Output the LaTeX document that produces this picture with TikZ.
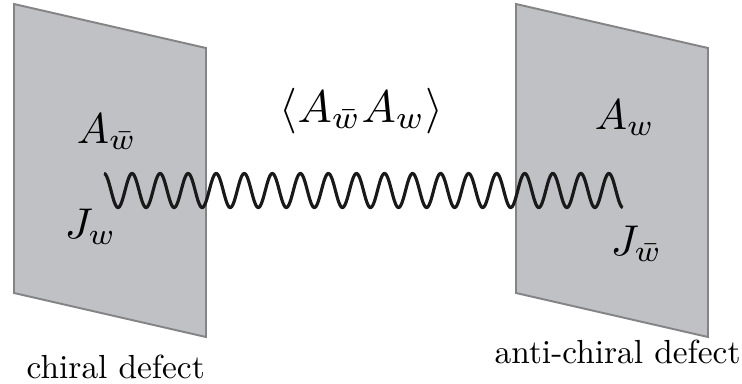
\documentclass[tikz,border=0pt]{standalone}
\usepackage{amsmath}
\usepackage{xcolor}
\usepackage{tikz}

\definecolor{planefill}{RGB}{192,193,196}
\definecolor{planeedge}{RGB}{132,132,134}

\begin{document}
\begin{tikzpicture}[
    x=0.02cm, y=-0.02cm,
    plane/.style={fill=planefill, draw=planeedge, line width=1.1pt, line join=miter},
    wave/.style={line width=1.8pt, black!90},
    lbl/.style={anchor=base west, inner sep=0pt, scale=2.45},
    corrlbl/.style={anchor=base west, inner sep=0pt, scale=2.6},
    caption/.style={anchor=base west, inner sep=0pt, scale=1.9},
  ]
    \useasboundingbox (0,0) rectangle (742,383);

    % the two defect planes
    \draw[plane] (14,4) -- (206,48) -- (206,337) -- (14,293) -- cycle;
    \draw[plane] (516,4) -- (708,48) -- (708,337) -- (516,293) -- cycle;

    % propagator between the defects
    \coordinate (wl) at (104,190.5);
    \draw[wave, shift={(wl)}] plot[domain=0:18.5, samples=700, smooth]
        ({\x*28.05}, {-17*cos(360*\x)});

    \node[lbl] (abar) at (76,143) {$A_{\bar w}$};
    \node[lbl] (jw) at (64,238) {$J_w$};
    \node[corrlbl] (corr) at (279,122) {$\langle A_{\bar w} A_w\rangle$};
    \node[lbl] (aw) at (594,129) {$A_w$};
    \node[lbl] (jbar) at (610,255) {$J_{\bar w}$};

    \node[caption] (chiral) at (26,378) {chiral defect};
    \node[caption] (antichiral) at (494,363) {anti-chiral defect};
\end{tikzpicture}
\end{document}
